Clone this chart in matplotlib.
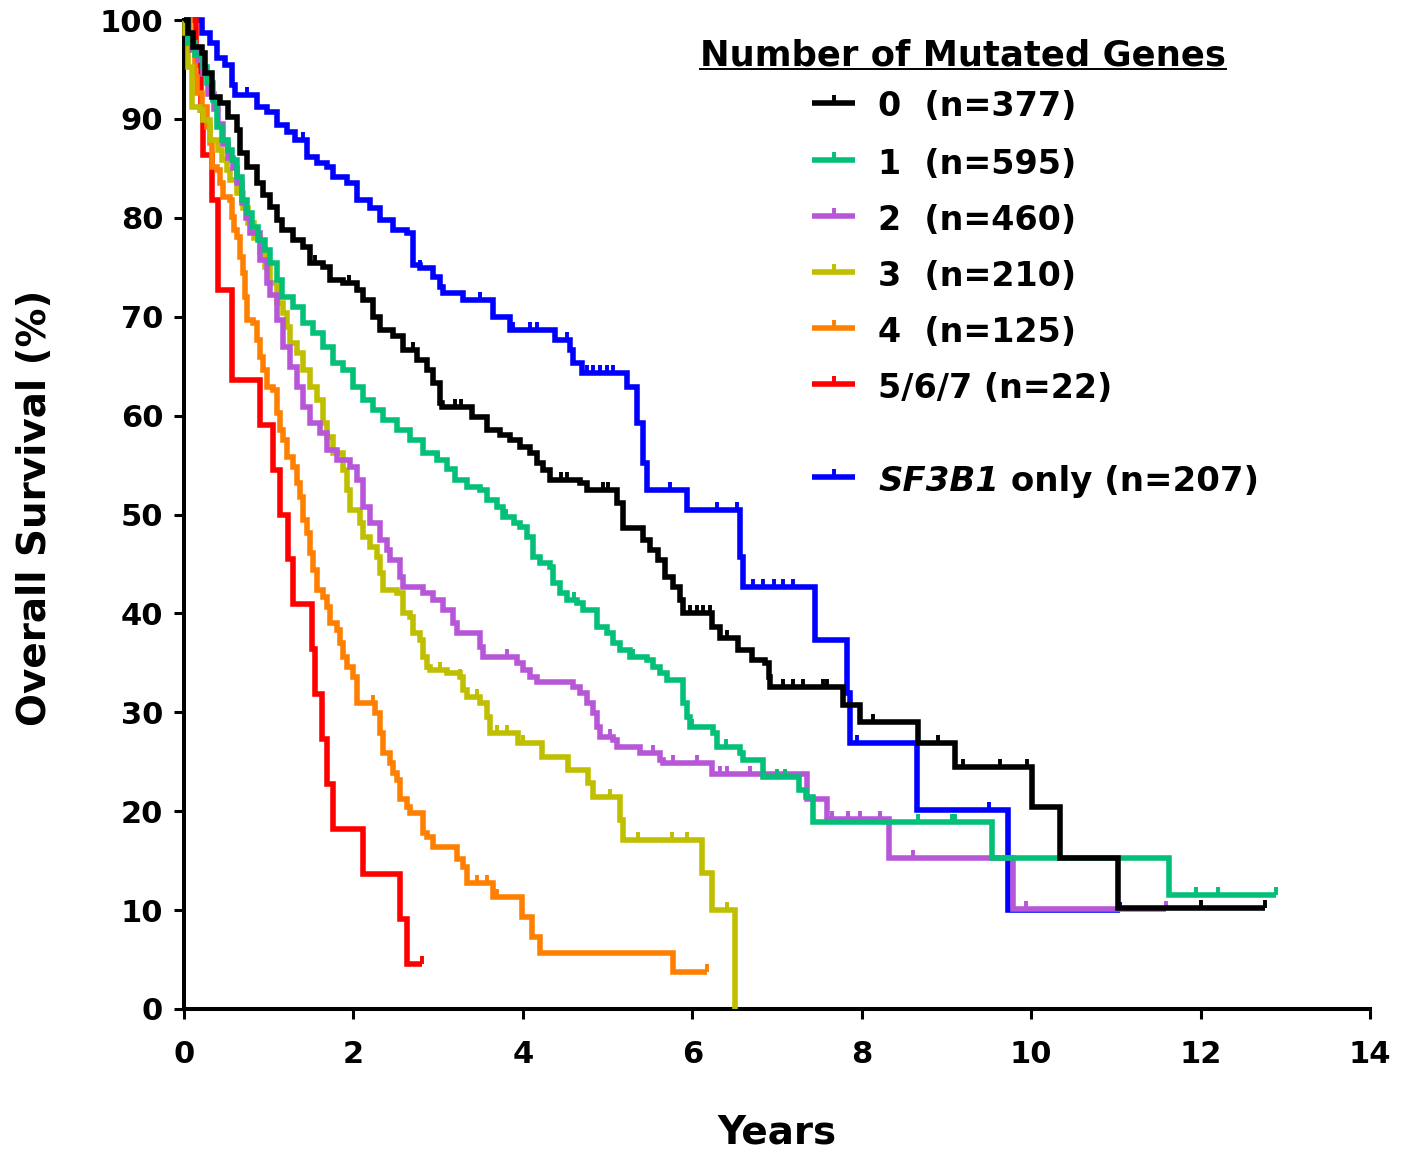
import numpy as np
import matplotlib
matplotlib.use("Agg")
import matplotlib.pyplot as plt
from matplotlib.path import Path
from matplotlib.lines import Line2D

plt.rcParams['font.family'] = ['DejaVu Sans']
plt.rcParams['font.weight'] = 'bold'

# ---- Kaplan-Meier step points: time (years) and overall survival (%) ----
# 0 mutated genes (n=377)
t0 = [0, 0.05, 0.11, 0.21, 0.25, 0.33, 0.43, 0.52, 0.63, 0.66, 0.74, 0.86, 0.93, 1.02, 1.10, 1.16, 1.29,
      1.40, 1.49, 1.64, 1.72, 1.88, 2.04, 2.11, 2.23, 2.31, 2.47, 2.59, 2.75, 2.87, 2.94, 3.02, 3.05, 3.40,
      3.58, 3.73, 3.85, 3.97, 4.08, 4.17, 4.24, 4.32, 4.68, 4.76, 5.11, 5.18, 5.42, 5.50, 5.60, 5.68, 5.77,
      5.85, 5.89, 6.23, 6.33, 6.54, 6.71, 6.86, 6.90, 6.92, 7.78, 7.98, 8.67, 9.10, 10.01, 10.34, 11.03, 12.76]
s0 = [100, 98.7, 97.3, 96.7, 94.6, 92.2, 91.6, 90.2, 88.9, 86.6, 85.1, 83.5, 82.3, 81.1, 79.8, 78.8, 77.8,
      77.0, 75.4, 75.0, 73.7, 73.4, 72.7, 71.7, 70.0, 68.7, 68.0, 66.6, 65.6, 64.6, 63.3, 61.3, 60.9, 59.9,
      58.5, 58.0, 57.5, 56.8, 56.2, 55.2, 54.5, 53.5, 53.2, 52.5, 51.2, 48.6, 47.4, 46.4, 45.4, 43.7, 42.7,
      41.4, 40.0, 38.6, 37.5, 36.3, 35.3, 35.0, 33.6, 32.6, 30.7, 29.0, 26.9, 24.5, 20.4, 15.3, 10.2, 10.2]
c0 = [1.55, 1.95, 2.70, 3.20, 3.27, 4.45, 4.52, 4.95, 5.00, 5.97, 6.06, 6.13, 6.21, 6.41, 7.07, 7.19,
      7.31, 7.54, 7.59, 8.13, 8.90, 9.20, 9.63, 9.95, 12.00, 12.76]

# 1 mutated gene (n=595)
t1 = [0, 0.05, 0.13, 0.22, 0.27, 0.34, 0.39, 0.45, 0.52, 0.57, 0.63, 0.68, 0.74, 0.80, 0.87, 0.96, 1.02,
      1.10, 1.16, 1.29, 1.40, 1.52, 1.64, 1.76, 1.88, 2.00, 2.11, 2.23, 2.35, 2.51, 2.67, 2.82, 2.99, 3.11,
      3.20, 3.34, 3.49, 3.58, 3.70, 3.76, 3.90, 3.97, 4.05, 4.12, 4.20, 4.32, 4.36, 4.44, 4.52, 4.64, 4.71,
      4.88, 4.99, 5.06, 5.15, 5.27, 5.47, 5.54, 5.62, 5.70, 5.89, 5.94, 5.97, 6.25, 6.29, 6.56, 6.60, 6.84,
      7.26, 7.34, 7.43, 9.54, 11.63, 12.89]
s1 = [100, 97.7, 96.5, 95.2, 93.6, 91.9, 89.2, 87.9, 86.9, 85.8, 84.1, 81.8, 80.5, 79.1, 77.8, 76.7, 75.4,
      73.7, 72.0, 71.0, 69.4, 68.4, 66.9, 65.3, 64.6, 62.9, 61.6, 60.6, 59.6, 58.5, 57.5, 56.2, 55.5, 54.6,
      53.5, 52.8, 52.5, 51.5, 50.8, 49.7, 49.1, 48.7, 47.7, 45.7, 45.1, 44.7, 43.1, 42.1, 41.4, 41.1, 40.3,
      38.6, 38.0, 37.0, 36.3, 35.6, 35.3, 34.6, 34.0, 33.3, 30.9, 29.5, 28.5, 27.9, 26.5, 25.9, 25.2, 23.5,
      22.1, 21.4, 18.9, 15.3, 11.5, 11.5]
c1 = [3.00, 3.80, 4.60, 5.30, 6.00, 6.40, 7.00, 7.10, 8.66, 9.07, 9.10, 11.95, 12.20, 12.89]

# 2 mutated genes (n=460)
t2 = [0, 0.05, 0.10, 0.17, 0.22, 0.28, 0.35, 0.40, 0.46, 0.52, 0.58, 0.63, 0.68, 0.73, 0.78, 0.90, 0.98,
      1.02, 1.10, 1.17, 1.25, 1.33, 1.40, 1.49, 1.61, 1.69, 1.81, 1.96, 2.04, 2.11, 2.20, 2.31, 2.40, 2.43,
      2.55, 2.59, 2.82, 2.94, 3.06, 3.18, 3.22, 3.49, 3.53, 3.93, 4.00, 4.08, 4.17, 4.59, 4.68, 4.76, 4.83,
      4.88, 4.91, 5.06, 5.11, 5.38, 5.62, 5.66, 6.23, 7.36, 7.59, 8.32, 9.79, 11.59]
s2 = [100, 98.3, 97.0, 96.0, 94.5, 92.5, 91.0, 89.5, 87.5, 86.0, 85.0, 83.5, 81.5, 80.0, 78.5, 75.7, 73.4,
      72.2, 69.7, 66.9, 64.9, 62.9, 60.9, 59.3, 58.2, 56.5, 55.5, 54.8, 53.5, 50.8, 49.1, 47.4, 46.4, 45.4,
      43.7, 42.7, 42.1, 41.4, 40.3, 39.0, 38.0, 36.6, 35.6, 35.0, 34.3, 33.6, 33.1, 32.6, 32.0, 30.9, 29.9,
      28.5, 27.5, 27.2, 26.5, 25.9, 25.2, 24.9, 23.8, 21.2, 19.2, 15.3, 10.1, 10.1]
c2 = [3.81, 5.03, 5.54, 5.77, 6.06, 6.33, 6.41, 6.68, 7.65, 7.84, 7.98, 8.22, 8.60, 9.94, 11.59]

# 3 mutated genes (n=210)
t3 = [0, 0.01, 0.05, 0.09, 0.10, 0.19, 0.22, 0.31, 0.40, 0.45, 0.51, 0.54, 0.63, 0.70, 0.76, 0.83, 0.90,
      0.96, 1.02, 1.10, 1.17, 1.22, 1.25, 1.33, 1.40, 1.49, 1.57, 1.64, 1.69, 1.76, 1.88, 1.92, 1.96, 2.08,
      2.11, 2.20, 2.28, 2.31, 2.35, 2.51, 2.59, 2.67, 2.70, 2.79, 2.82, 2.87, 2.90, 3.11, 3.26, 3.29, 3.34,
      3.49, 3.58, 3.61, 3.94, 4.23, 4.53, 4.77, 4.83, 5.15, 5.18, 6.12, 6.23, 6.51]
s3 = [100, 98.7, 95.2, 92.9, 91.2, 90.9, 89.9, 87.9, 86.9, 85.8, 84.8, 83.8, 82.5, 81.0, 79.5, 78.0, 76.5,
      75.0, 73.4, 71.4, 70.4, 69.0, 67.3, 66.3, 64.6, 62.9, 61.6, 59.3, 57.8, 56.2, 54.5, 52.5, 50.5, 49.1,
      47.7, 46.7, 45.7, 44.1, 42.4, 42.1, 40.0, 39.6, 38.0, 37.3, 35.6, 34.6, 34.3, 34.0, 33.6, 32.3, 31.5,
      30.9, 29.5, 27.9, 26.9, 25.5, 24.2, 22.9, 21.4, 19.1, 17.1, 13.8, 10.0, 0]
c3 = [3.02, 3.26, 3.46, 3.70, 3.81, 4.00, 5.03, 5.36, 5.76, 5.94, 6.41]

# 4 mutated genes (n=125)
t4 = [0, 0.07, 0.13, 0.15, 0.21, 0.27, 0.31, 0.33, 0.39, 0.43, 0.46, 0.54, 0.57, 0.59, 0.63, 0.66, 0.70,
      0.72, 0.74, 0.81, 0.86, 0.90, 0.93, 0.98, 1.05, 1.10, 1.13, 1.17, 1.22, 1.29, 1.33, 1.37, 1.40, 1.45,
      1.49, 1.52, 1.57, 1.64, 1.69, 1.72, 1.81, 1.84, 1.88, 1.92, 2.00, 2.04, 2.26, 2.31, 2.35, 2.43, 2.47,
      2.51, 2.55, 2.63, 2.67, 2.82, 2.87, 2.94, 3.22, 3.29, 3.34, 3.65, 3.99, 4.11, 4.20, 5.77, 6.17]
s4 = [100, 97.7, 94.2, 92.6, 91.2, 89.2, 87.6, 85.1, 84.8, 83.5, 82.1, 81.8, 80.1, 78.8, 78.1, 76.0, 74.4,
      72.0, 69.7, 69.4, 67.6, 65.9, 64.6, 62.9, 62.6, 60.3, 58.5, 57.5, 55.8, 54.8, 53.2, 51.8, 49.4, 48.1,
      46.1, 44.4, 42.4, 41.7, 40.6, 39.0, 38.3, 37.0, 35.6, 34.6, 33.6, 30.9, 29.9, 27.9, 25.9, 24.9, 23.9,
      23.2, 21.2, 20.4, 19.8, 17.8, 17.4, 16.4, 15.2, 14.4, 12.7, 11.3, 9.3, 7.3, 5.7, 3.7, 3.7]
c4 = [2.23, 3.29, 3.46, 3.58, 3.70, 6.17]

# 5/6/7 mutated genes (n=22)
t5 = [0, 0.14, 0.20, 0.22, 0.33, 0.40, 0.57, 0.90, 1.05, 1.13, 1.23, 1.29, 1.51, 1.55, 1.63, 1.69, 1.76,
      2.11, 2.55, 2.63, 2.81]
s5 = [100, 95.5, 90.9, 86.4, 81.8, 72.7, 63.6, 59.1, 54.5, 50.0, 45.5, 40.9, 36.4, 31.8, 27.3, 22.7, 18.2,
      13.6, 9.1, 4.5, 4.5]
c5 = [2.81]

# SF3B1 only (n=207)
t6 = [0, 0.19, 0.21, 0.31, 0.39, 0.48, 0.57, 0.60, 0.86, 0.98, 1.10, 1.22, 1.31, 1.45, 1.57, 1.69, 1.76,
      1.92, 2.04, 2.20, 2.31, 2.47, 2.63, 2.70, 2.79, 2.94, 3.02, 3.06, 3.29, 3.65, 3.85, 4.38, 4.56, 4.59,
      4.70, 5.23, 5.35, 5.42, 5.47, 5.94, 6.56, 6.60, 7.45, 7.83, 7.86, 8.65, 9.73, 11.05]
s6 = [100, 100, 98.7, 97.7, 96.2, 95.4, 93.4, 92.4, 91.2, 90.7, 89.4, 88.7, 87.9, 86.1, 85.5, 85.1, 84.1,
      83.5, 81.8, 81.0, 79.8, 78.8, 78.5, 75.2, 74.9, 74.0, 73.0, 72.4, 71.7, 70.0, 68.7, 67.6, 66.6, 65.3,
      64.3, 62.9, 59.3, 55.2, 52.5, 50.5, 45.7, 42.7, 37.3, 32.0, 26.9, 20.1, 10.0, 10.0]
c6 = [0.74, 1.40, 2.79, 3.49, 3.88, 4.08, 4.17, 4.52, 4.76, 4.83, 4.91, 4.99, 5.06, 5.74, 6.29, 6.53,
      6.72, 6.84, 6.96, 7.07, 7.19, 7.95, 9.50, 11.05]

group_names = ["0", "1", "2", "3", "4", "5/6/7", "SF3B1"]
group_n = [377, 595, 460, 210, 125, 22, 207]
colors = ["#000000", "#03BF78", "#B757D8", "#BFBF00", "#FF8000", "#FF0000", "#0000FF"]

times = [t0, t1, t2, t3, t4, t5, t6]
surv = [s0, s1, s2, s3, s4, s5, s6]
censored = [c0, c1, c2, c3, c4, c5, c6]

LW = 4.0
TICK_MS = 11
TICK_MEW = 2.8

# ---- figure ----
W, H = 1405, 1150
fig = plt.figure(figsize=(W / 100, H / 100), dpi=100)
ax = fig.add_axes([184 / W, 1 - 1009 / H, (1370 - 184) / W, (1009 - 20) / H])

# censor tick: short upright stroke rising from the curve
tick_marker = Path([(0, 0), (0, 1)], [Path.MOVETO, Path.LINETO])

draw_order = [6, 5, 4, 3, 2, 1, 0]
for i in draw_order:
    t = np.asarray(times[i], dtype=float)
    s = np.asarray(surv[i], dtype=float)
    ax.plot(t, s, drawstyle='steps-post', color=colors[i], lw=LW,
            solid_joinstyle='miter', solid_capstyle='butt', clip_on=False, zorder=3 + (6 - i) * 0.1)
    tc = np.asarray(censored[i], dtype=float)
    idx = np.searchsorted(t, tc, side='right') - 1
    ax.plot(tc, s[idx], ls='none', marker=tick_marker, ms=TICK_MS, mew=TICK_MEW,
            color=colors[i], clip_on=False, zorder=3 + (6 - i) * 0.1)

ax.set_xlim(0, 14)
ax.set_ylim(0, 100)
ax.set_xticks(np.arange(0, 15, 2))
ax.set_yticks(np.arange(0, 101, 10))
for side in ('top', 'right'):
    ax.spines[side].set_visible(False)
for side in ('left', 'bottom'):
    ax.spines[side].set_linewidth(2.9)
ax.tick_params(axis='both', direction='out', length=7, width=2.2, labelsize=22)
ax.tick_params(axis='y', pad=8)
ax.tick_params(axis='x', pad=15)
for lab in ax.get_xticklabels() + ax.get_yticklabels():
    lab.set_fontweight('bold')

ax.set_xlabel("Years", fontsize=28, fontweight='bold')
ax.xaxis.set_label_coords(0.5, (1009 - 1133) / 989)
ax.xaxis.label.set_va('center')
ax.set_ylabel("Overall Survival (%)", fontsize=28, fontweight='bold')
ax.yaxis.set_label_coords((35 - 184) / 1186, (1009 - 508) / 989)
ax.yaxis.label.set_va('center')

# ---- legend ----
def fx(px):
    return px / W


def fy(py):
    return 1 - py / H


fig.text(fx(700), fy(56), "Number of Mutated Genes", fontsize=25.5, fontweight='bold',
         ha='left', va='center')
fig.add_artist(Line2D([fx(700), fx(1226)], [fy(69), fy(69)], transform=fig.transFigure,
                      color='black', lw=1.4))

row_y = [107, 164, 220, 276, 332, 388, 481]
labels = ["0  (n=377)", "1  (n=595)", "2  (n=460)", "3  (n=210)", "4  (n=125)", "5/6/7 (n=22)"]
for i in range(7):
    yh = fy(row_y[i] - 4)
    fig.add_artist(Line2D([fx(812), fx(855)], [yh, yh], transform=fig.transFigure,
                          color=colors[i], lw=LW, solid_capstyle='butt'))
    fig.add_artist(Line2D([fx(833.5)], [yh], transform=fig.transFigure, ls='none',
                          marker=tick_marker, ms=TICK_MS, mew=TICK_MEW, color=colors[i]))
    if i < 6:
        fig.text(fx(878), fy(row_y[i]), labels[i], fontsize=24, fontweight='bold',
                 ha='left', va='center')

gene = fig.text(fx(878), fy(row_y[6]), group_names[6], fontsize=24.5, fontweight='bold',
                style='italic', ha='left', va='center')
fig.canvas.draw()
bb = gene.get_window_extent()
fig.text(bb.x1 / W, fy(row_y[6]), f" only (n={group_n[6]})", fontsize=24.5, fontweight='bold',
         ha='left', va='center')

fig.savefig("out.png", dpi=100)
